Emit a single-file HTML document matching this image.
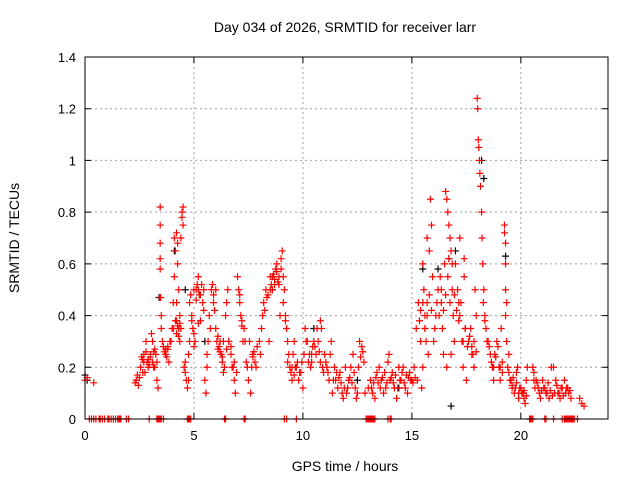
<!DOCTYPE html>
<html><head><meta charset="utf-8"><style>
body{margin:0;background:#fff;}
svg{display:block;font-family:"Liberation Sans",sans-serif;}
</style></head><body>
<svg id="chart" width="640" height="480">
<rect width="640" height="480" fill="#fff"/>
<text x="345" y="32" font-size="14" text-anchor="middle">Day 034 of 2026, SRMTID for receiver larr</text>
<text x="345" y="471" font-size="14" text-anchor="middle">GPS time / hours</text>
<text x="0" y="0" font-size="14" text-anchor="middle" transform="translate(19,238) rotate(-90)">SRMTID / TECUs</text>
<g id="grid"></g>
<g id="black"></g>
<g id="red"></g>
<g id="axes"></g>
</svg>
<script>
const xTicks=[0,5,10,15,20];
const yTicks=[0,0.2,0.4,0.6,0.8,1,1.2,1.4];
const yTickLabels=["0","0.2","0.4","0.6","0.8","1","1.2","1.4"];
const redT=[0,0.1,0.4,2.3,2.35,2.4,2.45,2.5,2.6,2.7,2.8,2.9,3.0,3.1,3.2,2.75,3.05,3.2,3.3,3.3,3.35,
3.45,3.45,3.45,3.45,3.45,3.47,3.5,3.5,3.55,3.7,3.8,3.9,3.75,3.85,4.0,
4.05,4.1,4.15,4.2,4.25,4.3,4.2,4.3,4.35,4.1,4.25,4.45,4.45,4.5,4.5,4.4,4.55,4.6,4.65,4.7,4.6,4.75,
4.8,4.85,4.9,4.95,5.0,5.05,5.0,5.1,5.15,5.2,5.3,5.4,5.45,5.5,5.55,5.6,5.6,5.65,5.7,5.75,5.8,
5.85,5.9,6.0,6.05,6.1,6.15,6.2,6.25,6.3,6.35,6.4,6.45,6.5,6.55,6.6,6.7,6.8,6.85,6.9,6.95,
7.0,7.05,7.1,7.15,7.2,7.3,7.35,7.45,7.5,7.6,7.65,7.7,7.8,7.85,7.9,
8.0,8.1,8.15,8.2,8.3,8.4,8.45,8.5,8.6,8.7,8.75,8.8,8.9,8.95,9.0,9.05,9.1,9.15,9.2,9.25,9.3,9.35,
9.4,9.45,9.5,9.55,9.6,9.7,9.8,9.9,9.95,10.0,10.1,10.2,10.3,10.35,10.4,10.45,
10.6,10.7,10.8,10.85,10.9,10.95,11.0,11.1,11.2,11.3,11.35,11.45,11.5,11.6,11.7,11.8,11.85,11.95,
12.0,12.1,12.2,12.3,12.4,12.45,12.55,12.6,12.7,12.8,12.85,13.0,13.1,13.2,13.3,13.4,
13.5,13.6,13.7,13.8,13.9,13.95,14.0,14.1,14.2,14.3,14.4,14.5,14.6,14.7,14.8,14.9,14.95,
15.0,15.1,15.2,15.3,15.35,15.4,15.45,15.5,15.55,15.6,15.65,15.7,15.75,15.8,15.85,15.9,15.95,15.7,15.5,15.6,
16.0,16.1,16.2,16.3,16.35,16.4,16.45,16.5,16.55,16.6,16.65,16.7,16.75,16.8,16.85,16.9,16.95,16.6,16.7,16.8,
17.0,17.1,17.15,17.2,17.3,17.35,17.4,17.45,17.5,17.6,17.7,17.75,17.8,17.85,17.9,17.95,17.2,17.4,
18.0,18.02,18.05,18.07,18.1,18.12,18.15,18.2,18.22,18.25,18.28,18.3,18.35,18.4,18.5,18.6,18.7,18.75,
18.8,18.9,19.0,19.05,19.1,19.15,19.25,19.25,19.3,19.3,19.3,19.35,19.3,19.35,19.4,19.45,
19.5,19.6,19.7,19.8,19.85,19.9,20.0,20.1,20.15,20.2,20.25,20.3,20.55,20.6,20.7,20.8,20.9,
21.0,21.1,21.2,21.3,21.4,21.5,21.6,21.7,21.8,21.9,22.0,22.1,22.2,22.3,22.7,22.8,22.9,
0.2,0.4,0.7,1.05,1.5,1.9,2.95,3.35,3.45,4.7,4.85,6.4,7.3,9.7,12.9,13.0,13.1,13.2,13.3,14.0,14.05,20.4,20.5,21.1,21.5,22.1,22.2,22.3,22.4,22.6];
const redV=[0.15,0.16,0.14,0.14,0.15,0.17,0.13,0.16,0.24,0.22,0.26,0.2,0.25,0.3,0.27,0.18,0.33,0.2,0.22,0.15,0.12,
0.82,0.75,0.68,0.62,0.58,0.47,0.4,0.35,0.3,0.27,0.28,0.3,0.24,0.22,0.35,
0.45,0.55,0.65,0.72,0.6,0.5,0.38,0.35,0.4,0.7,0.68,0.8,0.78,0.75,0.82,0.7,0.2,0.18,0.15,0.12,0.22,0.25,
0.45,0.48,0.4,0.35,0.33,0.3,0.28,0.5,0.52,0.55,0.48,0.45,0.42,0.15,0.1,0.2,0.25,0.3,0.4,0.35,0.5,
0.52,0.45,0.35,0.3,0.32,0.28,0.3,0.25,0.22,0.18,0.2,0.4,0.45,0.5,0.3,0.28,0.2,0.15,0.1,0.18,
0.55,0.5,0.45,0.4,0.38,0.35,0.3,0.2,0.15,0.1,0.2,0.25,0.22,0.2,0.28,
0.3,0.35,0.4,0.45,0.5,0.48,0.3,0.5,0.55,0.52,0.58,0.6,0.52,0.4,0.62,0.65,0.55,0.5,0.4,0.35,0.3,0.25,
0.2,0.18,0.15,0.25,0.3,0.2,0.15,0.18,0.22,0.12,0.35,0.3,0.25,0.2,0.22,0.28,
0.25,0.3,0.38,0.35,0.2,0.18,0.25,0.2,0.15,0.3,0.1,0.2,0.15,0.12,0.18,0.1,0.08,0.2,
0.1,0.15,0.2,0.25,0.12,0.08,0.2,0.3,0.28,0.22,0.1,0.12,0.15,0.1,0.08,0.18,
0.2,0.15,0.1,0.12,0.22,0.25,0.15,0.18,0.12,0.08,0.2,0.15,0.2,0.12,0.1,0.18,0.15,
0.15,0.2,0.35,0.45,0.38,0.3,0.12,0.6,0.5,0.4,0.3,0.45,0.25,0.65,0.85,0.75,0.55,0.7,0.2,0.35,
0.3,0.4,0.5,0.55,0.45,0.35,0.25,0.6,0.88,0.85,0.8,0.75,0.7,0.65,0.5,0.4,0.3,0.2,0.62,0.25,
0.6,0.5,0.45,0.4,0.3,0.2,0.55,0.35,0.15,0.3,0.35,0.28,0.25,0.2,0.5,0.4,0.7,0.62,
1.24,1.2,1.08,1.05,1.0,0.95,0.9,0.8,0.7,0.6,0.45,0.5,0.4,0.35,0.3,0.25,0.2,0.15,
0.25,0.3,0.2,0.15,0.35,0.18,0.75,0.72,0.68,0.6,0.5,0.45,0.4,0.3,0.2,0.25,
0.15,0.12,0.1,0.18,0.2,0.08,0.12,0.1,0.08,0.06,0.15,0.2,0.2,0.18,0.15,0.12,0.08,
0.15,0.12,0.1,0.08,0.2,0.2,0.15,0.1,0.08,0.12,0.15,0.12,0.1,0.08,0.08,0.06,0.05,
0,0,0,0,0,0,0,0,0,0,0,0,0,0,0,0,0,0,0,0,0,0,0,0,0,0,0,0,0,0];
const redT2=[2.55,2.65,2.7,2.85,2.95,3.0,3.1,3.15,2.65,2.8,2.9,3.25,3.15,3.6,3.65,3.7,3.8,3.95,4.05,4.15,4.2,4.25,4.3,4.35,4.4,4.35,4.2,
4.75,4.8,4.9,5.0,5.1,5.2,5.25,5.35,5.45,5.2,5.3,5.9,5.95,6.0,6.1,6.2,6.3,6.35,6.5,6.7,6.75,6.85,7.1,7.2,7.25,7.4,7.55,7.7,7.75,
8.05,8.25,8.35,8.5,8.55,8.6,8.65,8.7,8.8,8.85,8.9,9.0,9.1,9.2,9.3,9.5,9.6,9.65,9.75,9.85,10.05,10.15,10.25,10.4,10.5,10.55,10.65,10.75,10.8,
11.05,11.15,11.25,11.4,11.55,11.65,11.75,11.9,12.05,12.15,12.25,12.35,12.5,12.65,12.75,13.15,13.25,13.35,13.45,13.55,13.65,13.75,13.85,
14.05,14.15,14.25,14.35,14.45,14.55,14.65,14.75,14.85,15.05,15.15,15.25,15.4,15.5,15.6,15.7,15.8,15.9,16.05,16.15,16.25,16.35,16.45,16.55,
16.65,16.75,16.85,16.95,17.05,17.15,17.25,17.35,17.45,17.55,17.65,17.75,17.85,17.95,18.35,18.45,18.55,18.65,18.75,18.85,18.95,19.05,19.15,
19.45,19.55,19.6,19.65,19.75,19.8,19.9,19.95,20.05,20.15,20.25,20.6,20.65,20.75,20.85,20.95,21.05,21.15,21.25,21.35,21.45,21.55,21.65,21.75,21.85,21.95,22.05,22.15,22.25,
0.3,0.5,0.65,0.8,0.9,1.1,1.2,1.3,1.4,1.55,1.6,1.65,2.0,3.3,3.4,3.5,3.6,4.75,4.8,6.45,7.35,9.15,9.25,12.95,13.05,13.15,13.25,13.9,20.45,20.55,21.15,21.9,22.0,22.05,22.15,22.25,22.35,22.45];
const redV2=[0.2,0.23,0.25,0.22,0.21,0.24,0.22,0.26,0.18,0.3,0.23,0.25,0.2,0.28,0.26,0.25,0.27,0.3,0.35,0.38,0.33,0.36,0.32,0.37,0.35,0.3,0.45,
0.15,0.3,0.38,0.5,0.46,0.5,0.48,0.52,0.5,0.37,0.38,0.48,0.42,0.5,0.27,0.26,0.24,0.3,0.27,0.25,0.2,0.22,0.48,0.36,0.3,0.22,0.3,0.24,0.26,
0.25,0.42,0.47,0.55,0.52,0.5,0.56,0.54,0.57,0.53,0.55,0.58,0.45,0.38,0.22,0.2,0.17,0.2,0.22,0.18,0.25,0.3,0.22,0.25,0.3,0.28,0.35,0.26,0.22,
0.22,0.18,0.25,0.15,0.18,0.16,0.14,0.12,0.12,0.16,0.14,0.18,0.1,0.24,0.26,0.12,0.14,0.16,0.14,0.12,0.16,0.18,0.14,
0.16,0.14,0.17,0.12,0.15,0.18,0.14,0.17,0.16,0.14,0.16,0.15,0.42,0.45,0.35,0.4,0.48,0.42,0.35,0.45,0.4,0.5,0.42,0.48,
0.55,0.45,0.6,0.48,0.42,0.38,0.45,0.3,0.35,0.28,0.32,0.25,0.3,0.26,0.38,0.3,0.28,0.22,0.2,0.24,0.28,0.2,0.22,
0.18,0.15,0.13,0.16,0.12,0.14,0.1,0.12,0.1,0.11,0.09,0.15,0.12,0.14,0.1,0.11,0.12,0.1,0.14,0.11,0.09,0.1,0.13,0.1,0.12,0.09,0.1,0.12,0.11,
0,0,0,0,0,0,0,0,0,0,0,0,0,0,0,0,0,0,0,0,0,0,0,0,0,0,0,0,0,0,0,0,0,0,0,0,0,0];
const blackT=[0,0.1,3.4,4.1,4.6,18.2,16.2,16.7,19.3,15.5,16.8,10.5,5.5,6.6,18.3,17.0,8.6,12.5,14.4,20.1];
const blackV=[0.17,0.15,0.47,0.65,0.5,1.0,0.58,0.62,0.63,0.58,0.05,0.35,0.3,0.3,0.93,0.65,0.5,0.15,0.12,0.1];

const X0=85,X1=608,Y0=419,Y1=57;
const xs=t=>X0+t*(X1-X0)/24;
const ys=v=>Y0-v*(Y0-Y1)/1.4;
const NS='http://www.w3.org/2000/svg';
function mk(tag,attrs,parent){const e=document.createElementNS(NS,tag);for(const k in attrs)e.setAttribute(k,attrs[k]);parent.appendChild(e);return e;}
const grid=document.getElementById('grid'),axes=document.getElementById('axes');
xTicks.forEach((t,i)=>{
 const x=xs(t);
 if(t>0){const g=mk('line',{x1:x,x2:x,y1:Y1,y2:Y0,stroke:'#a0a0a0','stroke-dasharray':'2,3'},grid);
 
 }
 const tk=mk('path',{d:`M${x},${Y0}v-6M${x},${Y1}v6`,stroke:'#000'},axes);
 
 
 const lb=mk('text',{x:x,y:Y0+21,'font-size':13,'text-anchor':'middle'},axes);lb.textContent=String(t);
 
 
});
yTicks.forEach((v,i)=>{
 const y=ys(v);
 if(v>0&&v<1.4){const g=mk('line',{x1:X0,x2:X1,y1:y,y2:y,stroke:'#a0a0a0','stroke-dasharray':'2,3'},grid);
 
 }
 const tk=mk('path',{d:`M${X0},${y}h6M${X1},${y}h-6`,stroke:'#000'},axes);
 
 
 const lb=mk('text',{x:X0-9,y:y+5,'font-size':13,'text-anchor':'end'},axes);lb.textContent=yTickLabels[i];
 
 
});
const frame=mk('rect',{x:X0,y:Y1,width:X1-X0,height:Y0-Y1,fill:'none',stroke:'#000'},axes);


function plot(T,V,g,col){
 let d='';
 for(let i=0;i<T.length;i++){const x=xs(T[i]),y=ys(V[i]);d+=`M${x-3.5},${y}h7M${x},${y-3.5}v7`;}
 const p=mk('path',{d:d,stroke:col,'stroke-width':1.2,fill:'none'},g);
 
 
}
plot(blackT,blackV,document.getElementById('black'),'#000');
plot(redT,redV,document.getElementById('red'),'#ff0000');
plot(redT2,redV2,document.getElementById('red'),'#ff0000');
</script>
</body></html>
